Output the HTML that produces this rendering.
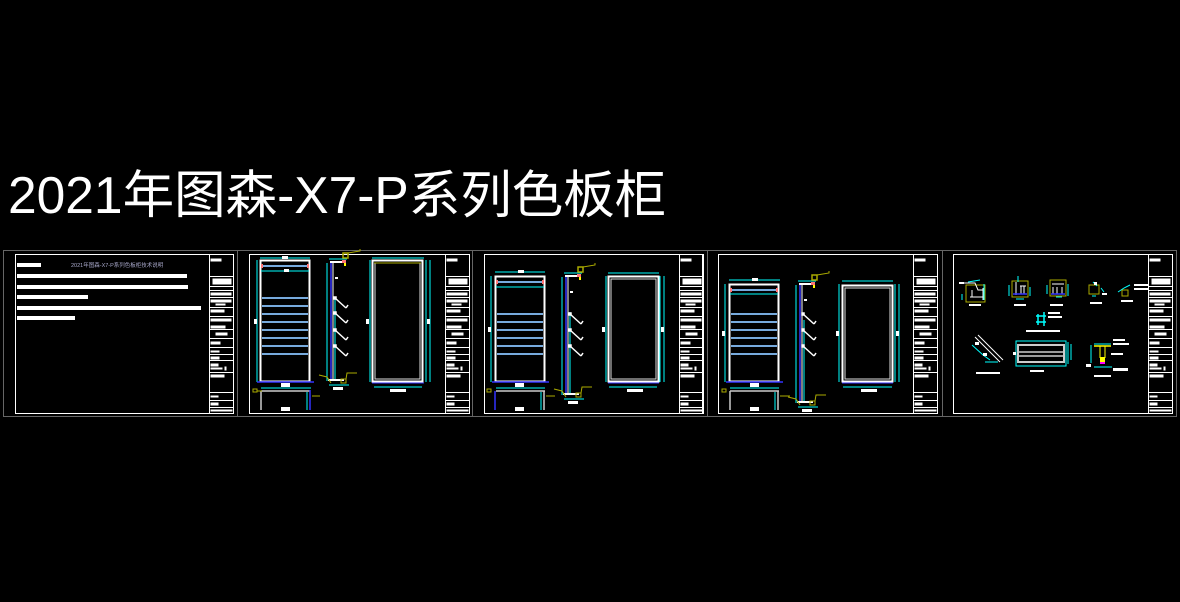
<!DOCTYPE html>
<html><head><meta charset="utf-8"><style>
html,body{margin:0;padding:0;background:#000;width:1180px;height:602px;overflow:hidden}
svg{position:absolute;left:0;top:0}
</style></head><body>
<svg width="1180" height="602" viewBox="0 0 1180 602" xmlns="http://www.w3.org/2000/svg">
<defs>
<g id="tb">
<rect x="0" y="0" width="24" height="159" fill="none" stroke="#fff" stroke-width="1"/>
<g stroke="#fff" stroke-width="1">
<line x1="0" y1="22" x2="24" y2="22"/><line x1="0" y1="32" x2="24" y2="32"/>
<line x1="0" y1="36" x2="24" y2="36"/><line x1="0" y1="43" x2="24" y2="43"/>
<line x1="0" y1="53" x2="24" y2="53"/><line x1="0" y1="62" x2="24" y2="62"/>
<line x1="0" y1="75" x2="24" y2="75"/><line x1="0" y1="84" x2="24" y2="84"/>
<line x1="0" y1="93" x2="24" y2="93"/><line x1="0" y1="100" x2="24" y2="100"/>
<line x1="0" y1="106" x2="24" y2="106"/><line x1="0" y1="118" x2="24" y2="118"/>
<line x1="0" y1="138" x2="24" y2="138"/><line x1="0" y1="146" x2="24" y2="146"/>
<line x1="0" y1="153" x2="24" y2="153"/>
</g>
<g fill="#fff">
<rect x="1" y="4" width="11" height="3"/><rect x="3" y="24" width="19" height="6"/>
<rect x="1" y="38" width="21" height="3"/><rect x="1" y="45" width="21" height="3"/><rect x="6" y="49" width="10" height="2"/>
<rect x="1" y="55" width="14" height="3"/><rect x="1" y="64" width="21" height="3"/>
<rect x="1" y="71" width="15" height="3"/><rect x="6" y="78" width="12" height="3"/>
<rect x="1" y="87" width="10" height="3"/><rect x="1" y="96" width="9" height="2"/>
<rect x="1" y="102" width="9" height="3"/><rect x="1" y="109" width="8" height="3"/>
<rect x="1" y="113" width="12" height="2"/><rect x="15" y="112" width="2" height="4"/>
<rect x="1" y="120" width="14" height="3"/><rect x="1" y="141" width="8" height="2"/>
<rect x="1" y="148" width="8" height="3"/><rect x="1" y="155" width="22" height="2"/>
</g>
</g>
<g id="hook" stroke="#fff" stroke-width="1.5" fill="none">
<line x1="0" y1="0" x2="11" y2="10"/><line x1="11" y1="10" x2="13" y2="7"/>
<rect x="-1" y="-1" width="2" height="2" fill="#fff"/>
</g>
<g id="side">
<line x1="0" y1="0" x2="0" y2="118" stroke="#0ff"/>
<line x1="4" y1="0" x2="4" y2="118" stroke="#33f" stroke-width="1.5"/>
<line x1="6" y1="0" x2="6" y2="118" stroke="#fff"/>
<line x1="8" y1="35" x2="8" y2="118" stroke="#0ff"/>
<rect x="3" y="-2" width="12" height="2" fill="#fff"/>
<rect x="8" y="14" width="3" height="2" fill="#fff"/>
<line x1="2" y1="-4" x2="20" y2="-4" stroke="#0ff"/>
<rect x="16" y="-10" width="5" height="5" fill="none" stroke="#aa0" stroke-width="1.5"/>
<polyline points="21,-10 33,-12 33,-14" fill="none" stroke="#aa0"/>
<rect x="15" y="-3" width="4" height="3" fill="#f77"/>
<rect x="17" y="0" width="2" height="3" fill="#ff0"/>
<rect x="1" y="116" width="16" height="2" fill="#fff"/>
<line x1="2" y1="122" x2="22" y2="122" stroke="#0ff"/>
<rect x="6" y="124" width="10" height="3" fill="#fff"/>
<polyline points="-8,112 0,114 4,120" fill="none" stroke="#aa0"/>
<rect x="14" y="116" width="5" height="4" fill="none" stroke="#aa0"/>
<polyline points="19,116 20,110 30,110" fill="none" stroke="#aa0"/>
</g>
</defs>

<text x="8" y="213" font-family="Liberation Sans, 'Noto Sans CJK SC', sans-serif" font-size="51.5" fill="#fff">2021年图森-X7-P系列色板柜</text>

<g fill="none" stroke="#666" stroke-width="1">
<rect x="3.5" y="250.5" width="1173" height="166"/>
<line x1="237.5" y1="250" x2="237.5" y2="416"/>
<line x1="472.5" y1="250" x2="472.5" y2="416"/>
<line x1="707.5" y1="250" x2="707.5" y2="416"/>
<line x1="942.5" y1="250" x2="942.5" y2="416"/>
</g>
<g fill="none" stroke="#fff" stroke-width="1">
<rect x="15.5" y="254.5" width="218" height="159"/>
<rect x="249.5" y="254.5" width="220" height="159"/>
<rect x="484.5" y="254.5" width="218" height="159"/>
<rect x="718.5" y="254.5" width="219" height="159"/>
<rect x="953.5" y="254.5" width="219" height="159"/>
</g>
<use href="#tb" x="209.5" y="254.5"/>
<use href="#tb" x="445.5" y="254.5"/>
<use href="#tb" x="679.5" y="254.5"/>
<use href="#tb" x="913.5" y="254.5"/>
<use href="#tb" x="1148.5" y="254.5"/>

<g fill="#fff">
<rect x="17" y="263" width="24" height="4"/>
<rect x="17" y="274" width="170" height="4"/>
<rect x="17" y="285" width="171" height="4"/>
<rect x="17" y="295" width="71" height="4"/>
<rect x="17" y="306" width="184" height="4"/>
<rect x="17" y="316" width="58" height="4"/>
</g>
<text x="71" y="267" font-family="Liberation Sans, 'Noto Sans CJK SC', sans-serif" font-size="5.5" fill="#aac">2021年图森-X7-P系列色板柜技术说明</text>

<g>
<line x1="260" y1="258" x2="310" y2="258" stroke="#0ff"/>
<rect x="282" y="256" width="6" height="3" fill="#fff"/>
<line x1="257" y1="260" x2="257" y2="382" stroke="#0ff"/>
<rect x="254" y="319" width="3" height="5" fill="#fff"/>
<rect x="260.5" y="260.5" width="49" height="121" fill="none" stroke="#fff" stroke-width="2"/>
<line x1="263" y1="266" x2="307" y2="266" stroke="#7ad" stroke-width="2"/>
<rect x="261" y="264" width="2" height="4" fill="#f77"/><rect x="307" y="264" width="2" height="4" fill="#f77"/>
<line x1="261" y1="271" x2="309" y2="271" stroke="#0ff"/>
<rect x="284" y="269" width="5" height="3" fill="#fff"/>
<g stroke="#7ad" stroke-width="2">
<line x1="262" y1="298" x2="308" y2="298"/><line x1="262" y1="306" x2="308" y2="306"/>
<line x1="262" y1="314" x2="308" y2="314"/><line x1="262" y1="322" x2="308" y2="322"/>
<line x1="262" y1="330" x2="308" y2="330"/><line x1="262" y1="338" x2="308" y2="338"/>
<line x1="262" y1="346" x2="308" y2="346"/><line x1="262" y1="354" x2="308" y2="354"/>
</g>
<line x1="257" y1="382" x2="314" y2="382" stroke="#33f" stroke-width="1.5"/>
<rect x="281" y="383" width="9" height="4" fill="#fff"/>
<line x1="261" y1="388" x2="311" y2="388" stroke="#0ff"/>
<line x1="261" y1="391" x2="310" y2="391" stroke="#ccc" stroke-width="1.5"/>
<line x1="261" y1="391" x2="261" y2="410" stroke="#ccc" stroke-width="1.5"/>
<line x1="310" y1="390" x2="310" y2="410" stroke="#33f" stroke-width="1.5"/>
<line x1="307" y1="392" x2="307" y2="410" stroke="#0ff"/>
<rect x="281" y="407" width="9" height="4" fill="#fff"/>
<rect x="253" y="389" width="4" height="3" fill="none" stroke="#aa0"/>
<line x1="257" y1="391" x2="262" y2="391" stroke="#aa0"/>
<line x1="312" y1="396" x2="320" y2="396" stroke="#aa0"/>
<use href="#side" x="327" y="263"/>
<use href="#hook" x="335" y="298"/><use href="#hook" x="335" y="313"/>
<use href="#hook" x="335" y="330"/><use href="#hook" x="335" y="346"/>
<line x1="372" y1="258" x2="424" y2="258" stroke="#0ff"/>
<line x1="370" y1="260" x2="370" y2="382" stroke="#0ff"/>
<line x1="426" y1="260" x2="426" y2="382" stroke="#0ff"/>
<line x1="430" y1="260" x2="430" y2="382" stroke="#0ff"/>
<rect x="372.5" y="260.5" width="50" height="121" fill="none" stroke="#fff" stroke-width="2"/>
<rect x="375" y="263" width="45" height="116" fill="none" stroke="#ddd"/>
<line x1="374" y1="263" x2="421" y2="263" stroke="#aa0"/>
<line x1="372" y1="383" x2="424" y2="383" stroke="#33f"/>
<line x1="374" y1="387" x2="422" y2="387" stroke="#0ff"/>
<rect x="390" y="389" width="16" height="3" fill="#fff"/>
<rect x="366" y="319" width="3" height="5" fill="#fff"/><rect x="427" y="319" width="3" height="5" fill="#fff"/>
</g>

<g>
<line x1="495" y1="272" x2="545" y2="272" stroke="#0ff"/>
<rect x="518" y="270" width="6" height="3" fill="#fff"/>
<line x1="491" y1="276" x2="491" y2="382" stroke="#0ff"/>
<rect x="488" y="327" width="3" height="5" fill="#fff"/>
<rect x="495.5" y="276.5" width="49" height="105" fill="none" stroke="#fff" stroke-width="2"/>
<line x1="498" y1="282" x2="542" y2="282" stroke="#7ad" stroke-width="2"/>
<rect x="496" y="280" width="2" height="4" fill="#f77"/><rect x="542" y="280" width="2" height="4" fill="#f77"/>
<line x1="496" y1="287" x2="544" y2="287" stroke="#0ff"/>
<g stroke="#7ad" stroke-width="2">
<line x1="497" y1="314" x2="543" y2="314"/><line x1="497" y1="322" x2="543" y2="322"/>
<line x1="497" y1="330" x2="543" y2="330"/><line x1="497" y1="338" x2="543" y2="338"/>
<line x1="497" y1="346" x2="543" y2="346"/><line x1="497" y1="354" x2="543" y2="354"/>
</g>
<line x1="492" y1="382" x2="549" y2="382" stroke="#33f" stroke-width="1.5"/>
<rect x="515" y="383" width="9" height="4" fill="#fff"/>
<line x1="496" y1="388" x2="545" y2="388" stroke="#0ff"/>
<line x1="496" y1="391" x2="545" y2="391" stroke="#ccc" stroke-width="1.5"/>
<line x1="495" y1="391" x2="495" y2="410" stroke="#33f" stroke-width="1.5"/>
<line x1="544" y1="391" x2="544" y2="410" stroke="#ccc" stroke-width="1.5"/>
<line x1="541" y1="392" x2="541" y2="410" stroke="#0ff"/>
<rect x="515" y="407" width="9" height="4" fill="#fff"/>
<rect x="487" y="389" width="4" height="3" fill="none" stroke="#aa0"/>
<line x1="546" y1="396" x2="555" y2="396" stroke="#aa0"/>
<use href="#side" x="562" y="277"/>
<use href="#hook" x="570" y="314"/><use href="#hook" x="570" y="330"/><use href="#hook" x="570" y="346"/>
<line x1="608" y1="273" x2="659" y2="273" stroke="#0ff"/>
<line x1="606" y1="276" x2="606" y2="382" stroke="#0ff"/>
<line x1="660" y1="276" x2="660" y2="382" stroke="#0ff"/>
<line x1="664" y1="276" x2="664" y2="382" stroke="#0ff"/>
<rect x="608.5" y="276.5" width="50" height="105" fill="none" stroke="#fff" stroke-width="2"/>
<rect x="611" y="279" width="45" height="100" fill="none" stroke="#ddd"/>
<line x1="608" y1="383" x2="659" y2="383" stroke="#33f"/>
<line x1="609" y1="387" x2="657" y2="387" stroke="#0ff"/>
<rect x="627" y="389" width="16" height="3" fill="#fff"/>
<rect x="602" y="327" width="3" height="5" fill="#fff"/><rect x="661" y="327" width="3" height="5" fill="#fff"/>
</g>

<g>
<line x1="729" y1="280" x2="780" y2="280" stroke="#0ff"/>
<rect x="752" y="278" width="6" height="3" fill="#fff"/>
<line x1="725" y1="284" x2="725" y2="382" stroke="#0ff"/>
<rect x="722" y="331" width="3" height="5" fill="#fff"/>
<rect x="729.5" y="284.5" width="49" height="97" fill="none" stroke="#fff" stroke-width="2"/>
<line x1="732" y1="290" x2="776" y2="290" stroke="#7ad" stroke-width="2"/>
<rect x="730" y="288" width="2" height="4" fill="#f77"/><rect x="776" y="288" width="2" height="4" fill="#f77"/>
<line x1="730" y1="294" x2="778" y2="294" stroke="#0ff"/>
<g stroke="#7ad" stroke-width="2">
<line x1="731" y1="314" x2="777" y2="314"/><line x1="731" y1="322" x2="777" y2="322"/>
<line x1="731" y1="330" x2="777" y2="330"/><line x1="731" y1="338" x2="777" y2="338"/>
<line x1="731" y1="346" x2="777" y2="346"/><line x1="731" y1="354" x2="777" y2="354"/>
</g>
<line x1="726" y1="382" x2="783" y2="382" stroke="#33f" stroke-width="1.5"/>
<rect x="750" y="383" width="9" height="4" fill="#fff"/>
<line x1="730" y1="388" x2="779" y2="388" stroke="#0ff"/>
<line x1="730" y1="391" x2="779" y2="391" stroke="#ccc" stroke-width="1.5"/>
<line x1="730" y1="391" x2="730" y2="410" stroke="#ccc" stroke-width="1.5"/>
<line x1="778" y1="391" x2="778" y2="410" stroke="#ccc" stroke-width="1.5"/>
<line x1="775" y1="392" x2="775" y2="410" stroke="#0ff"/>
<rect x="750" y="407" width="9" height="4" fill="#fff"/>
<rect x="722" y="389" width="4" height="3" fill="none" stroke="#aa0"/>
<line x1="780" y1="396" x2="790" y2="396" stroke="#aa0"/>
<use href="#side" x="796" y="285"/>
<use href="#hook" x="803" y="314"/><use href="#hook" x="803" y="330"/><use href="#hook" x="803" y="346"/>
<line x1="842" y1="281" x2="893" y2="281" stroke="#0ff"/>
<line x1="839" y1="284" x2="839" y2="382" stroke="#0ff"/>
<line x1="895" y1="284" x2="895" y2="382" stroke="#0ff"/>
<line x1="899" y1="284" x2="899" y2="382" stroke="#0ff"/>
<rect x="842.5" y="285.5" width="50" height="96" fill="none" stroke="#fff" stroke-width="2"/>
<rect x="845" y="288" width="45" height="91" fill="none" stroke="#ddd"/>
<line x1="842" y1="383" x2="893" y2="383" stroke="#33f"/>
<line x1="843" y1="387" x2="892" y2="387" stroke="#0ff"/>
<rect x="861" y="389" width="16" height="3" fill="#fff"/>
<rect x="836" y="331" width="3" height="5" fill="#fff"/><rect x="896" y="331" width="3" height="5" fill="#fff"/>
</g>

<g stroke-width="1">
<rect x="966" y="285" width="19" height="17" fill="none" stroke="#aa0"/>
<path d="M960 283 L975 283 L978 290 L984 290 M970 297 L984 297 M972 290 L972 297 M983 288 L983 300" stroke="#fff" fill="none"/>
<path d="M962 294 L962 300 M968 282 L980 280 M984 284 L984 300" stroke="#0ff" fill="none"/>
<rect x="959" y="282" width="5" height="2" fill="#fff"/>
<rect x="969" y="304" width="12" height="2" fill="#fff"/>
<rect x="1012" y="281" width="16" height="16" fill="none" stroke="#aa0"/>
<path d="M1016 282 L1016 295 M1020 286 L1026 286 M1021 286 L1021 294 M1024 286 L1024 294" stroke="#fff" fill="none"/>
<line x1="1013" y1="294" x2="1027" y2="294" stroke="#33f" stroke-width="1.5"/>
<path d="M1009 285 L1009 296 M1030 287 L1030 296 M1018 276 L1018 282 M1016 299 L1024 299" stroke="#0ff" fill="none"/>
<rect x="1014" y="304" width="12" height="2" fill="#fff"/>
<rect x="1050" y="280" width="16" height="16" fill="none" stroke="#aa0"/>
<path d="M1052 284 L1064 284 M1053 287 L1053 294 M1057 287 L1057 294 M1062 287 L1062 294" stroke="#fff" fill="none"/>
<line x1="1051" y1="294" x2="1065" y2="294" stroke="#33f" stroke-width="1.5"/>
<path d="M1047 285 L1047 294 M1068 284 L1068 296 M1056 297 L1062 297" stroke="#0ff" fill="none"/>
<rect x="1050" y="304" width="13" height="2" fill="#fff"/>
<rect x="1089" y="285" width="10" height="9" fill="none" stroke="#aa0"/>
<path d="M1093 282 L1097 286 M1101 288 L1104 292 M1092 296 L1096 296" stroke="#0ff" fill="none"/>
<rect x="1094" y="282" width="3" height="3" fill="#fff"/><rect x="1102" y="293" width="5" height="2" fill="#fff"/>
<rect x="1090" y="302" width="12" height="2" fill="#fff"/>
<rect x="1122" y="290" width="6" height="6" fill="none" stroke="#aa0"/>
<path d="M1118 292 L1124 288 L1130 285" stroke="#0ff" fill="none"/>
<rect x="1134" y="284" width="14" height="2" fill="#fff"/><rect x="1134" y="288" width="14" height="2" fill="#fff"/>
<rect x="1121" y="300" width="12" height="2" fill="#fff"/>
<path d="M1036 316 L1046 316 M1036 322 L1046 322 M1038 314 L1038 325 M1044 312 L1044 326" stroke="#0ff" fill="none" stroke-width="1.5"/>
<rect x="1048" y="312" width="12" height="2" fill="#fff"/><rect x="1048" y="316" width="14" height="2" fill="#fff"/>
<rect x="1026" y="330" width="34" height="2" fill="#fff"/>
<path d="M975 337 L1000 362 M978 335 L1003 360" stroke="#fff" fill="none"/>
<path d="M972 345 L983 355 L990 360 M985 362 L998 362" stroke="#0ff" fill="none"/>
<rect x="975" y="342" width="4" height="3" fill="#fff"/><rect x="983" y="353" width="4" height="3" fill="#fff"/>
<rect x="976" y="372" width="24" height="2" fill="#fff"/>
<rect x="1016" y="341" width="50" height="25" fill="none" stroke="#0ff"/>
<rect x="1018" y="345" width="46" height="17" fill="none" stroke="#ccc" stroke-width="2"/>
<line x1="1018" y1="352" x2="1064" y2="352" stroke="#ccc" stroke-width="1.5"/>
<line x1="1018" y1="356" x2="1064" y2="356" stroke="#ccc" stroke-width="1.5"/>
<path d="M1068 342 L1068 364 M1071 344 L1071 360" stroke="#0ff" fill="none"/>
<rect x="1013" y="352" width="3" height="3" fill="#fff"/>
<rect x="1030" y="370" width="14" height="2" fill="#fff"/>
<line x1="1094" y1="346" x2="1111" y2="346" stroke="#ff0" stroke-width="1.5"/>
<line x1="1100" y1="346" x2="1100" y2="358" stroke="#ff0"/><line x1="1105" y1="346" x2="1105" y2="358" stroke="#ff0"/>
<rect x="1100" y="357" width="5" height="6" fill="#ff0"/><rect x="1100" y="362" width="5" height="2" fill="#f0f"/>
<path d="M1091 345 L1091 363 M1094 344 L1111 344 M1094 367 L1112 367" stroke="#0ff" fill="none"/>
<rect x="1113" y="339" width="12" height="2" fill="#fff"/><rect x="1113" y="343" width="16" height="2" fill="#fff"/>
<rect x="1111" y="353" width="12" height="2" fill="#fff"/><rect x="1113" y="368" width="15" height="3" fill="#fff"/>
<rect x="1086" y="364" width="5" height="3" fill="#fff"/>
<rect x="1094" y="375" width="17" height="2" fill="#fff"/>
</g>
</svg>
</body></html>
